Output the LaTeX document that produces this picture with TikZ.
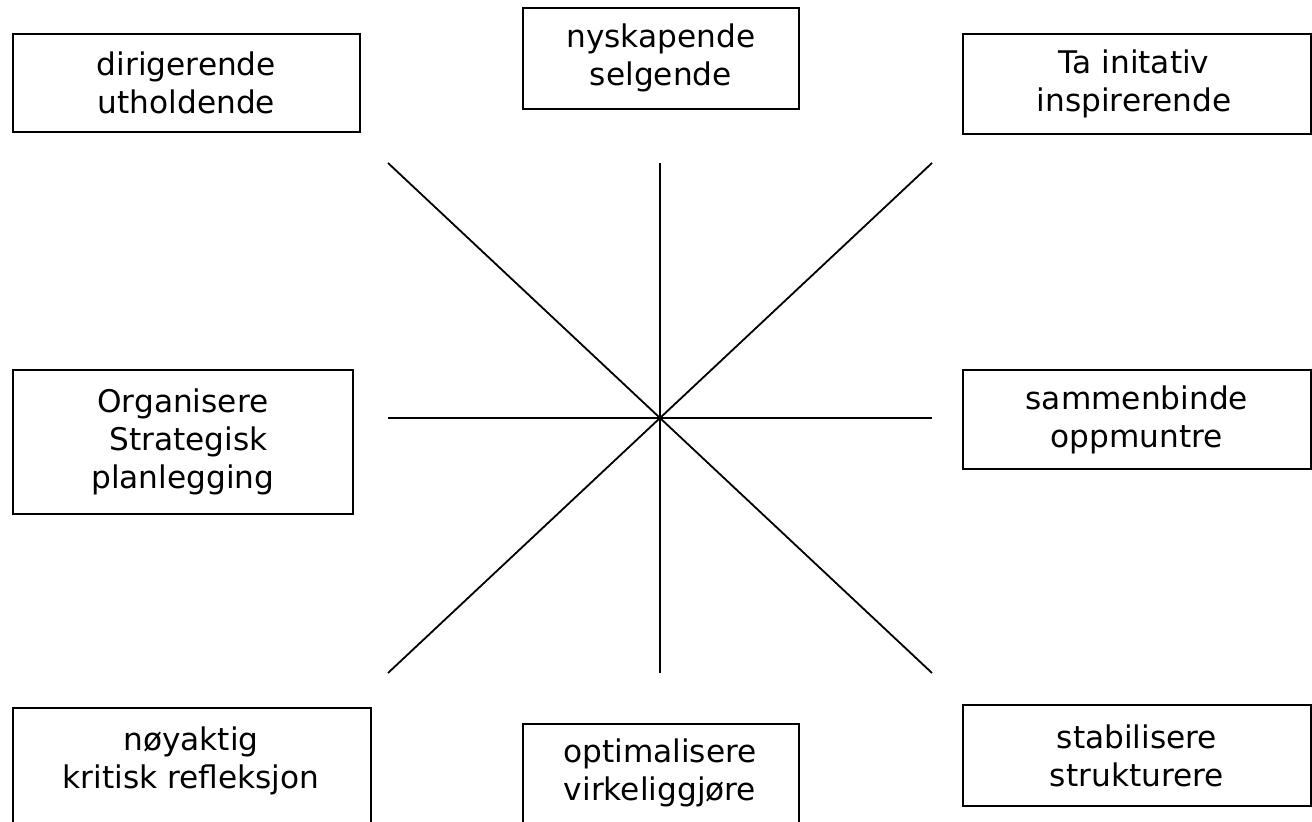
\documentclass[tikz,border=0pt]{standalone}
\usepackage{fontspec}
\setmainfont{DejaVu Sans}
\usepackage{tikz}

\begin{document}
\begin{tikzpicture}[x=0.5pt,y=-0.5pt,
    box/.style={draw, line width=0.9pt, anchor=north west, inner sep=0pt},
    lbl/.style={align=center, inner sep=0pt, font=\fontsize{15.6}{19}\selectfont}]
    \useasboundingbox (0,0) rectangle (1312,822);
    \clip (0,0) rectangle (1312,822);
    % boxes
    \node[box, minimum width=173.5pt, minimum height=49pt] (nw) at (12,33) {};
    \node[box, minimum width=138pt, minimum height=50.5pt] (n) at (522,7) {};
    \node[box, minimum width=174pt, minimum height=50pt] (ne) at (962,33) {};
    \node[box, minimum width=170pt, minimum height=72pt] (w) at (12,369) {};
    \node[box, minimum width=174pt, minimum height=49.5pt] (e) at (962,369) {};
    \node[box, minimum width=179pt, minimum height=70pt] (sw) at (12,707) {};
    \node[box, minimum width=138pt, minimum height=70pt] (s) at (522,723) {};
    \node[box, minimum width=174pt, minimum height=50.5pt] (se) at (962,704) {};
    % texts
    \node[lbl] (tnw) at (nw.center) {dirigerende\\utholdende};
    \node[lbl] (tn) at (n.center) {nyskapende\\selgende};
    \node[lbl] (tne) at (1134,84) {Ta initativ\\inspirerende};
    \node[lbl] (tw) at (w.center) {Organisere\\\hspace*{0.35em}Strategisk\\planlegging};
    \node[lbl] (te) at (e.center) {sammenbinde\\oppmuntre};
    \node[lbl] (tsw) at (191,761) {nøyaktig\\kritisk refleksjon};
    \node[lbl] (ts) at (660,773) {optimalisere\\virkeliggjøre};
    \node[lbl] (tse) at (se.center) {stabilisere\\strukturere};
    % spokes
    \coordinate (c) at (660,418);
    \foreach \dx/\dy in {0/-255, 0/255, -272/0, 272/0, -272/-255, 272/-255, -272/255, 272/255}
        \draw[line width=0.9pt] (c) -- ++(\dx,\dy);
\end{tikzpicture}
\end{document}
